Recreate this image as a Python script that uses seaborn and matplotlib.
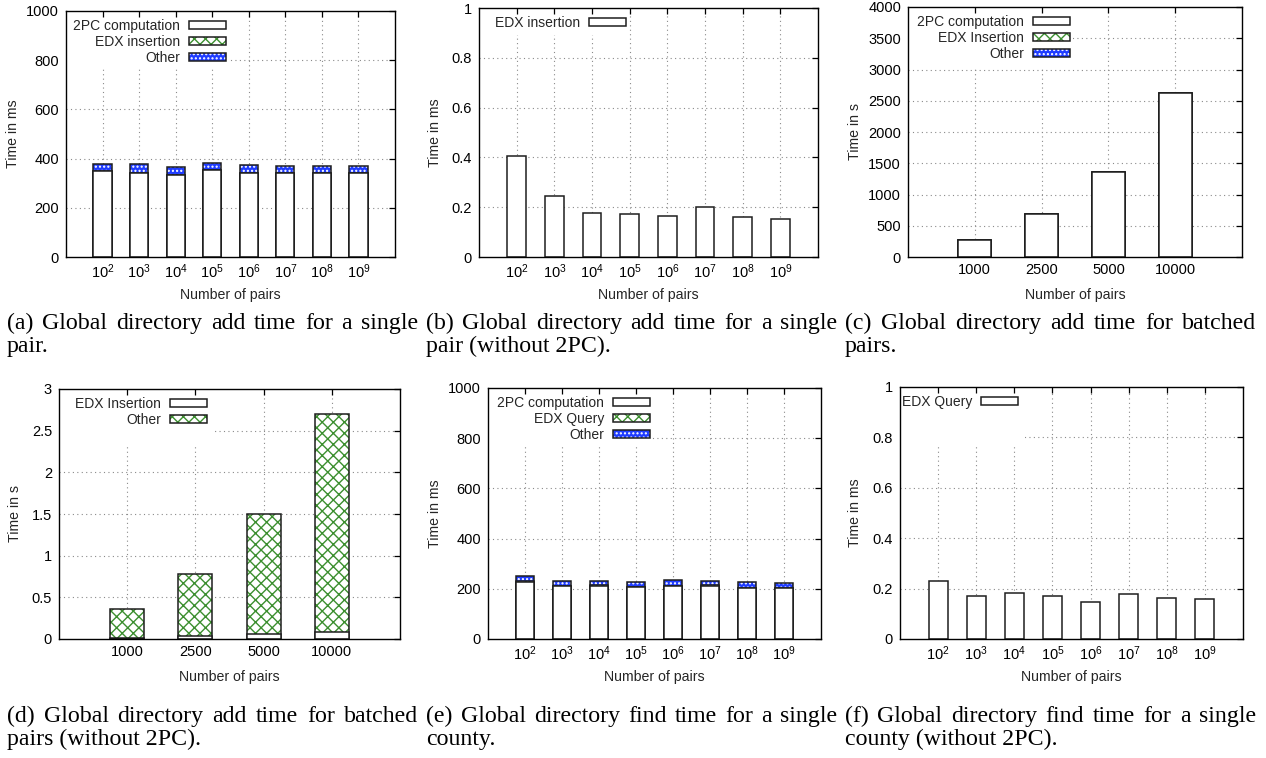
import numpy as np
import matplotlib
matplotlib.use('Agg')
import matplotlib.pyplot as plt
from matplotlib.patches import Patch, Rectangle
from matplotlib.ticker import FuncFormatter, MultipleLocator
import seaborn as sns

# values
exponents = [2, 3, 4, 5, 6, 7, 8, 9]
batch_sizes = [1000, 2500, 5000, 10000]

# global directory add, single pair (ms)
add_2pc_ms = [350, 343, 333, 352, 341, 341, 341, 341]
add_edx_ms = [0.406, 0.244, 0.176, 0.174, 0.166, 0.200, 0.162, 0.151]
add_other_ms = [28, 35, 33, 30, 33, 28, 29, 28]

# global directory add, batched pairs (s)
batch_2pc_s = [277, 682, 1353, 2626]
batch_edx_s = [0.016, 0.036, 0.064, 0.080]
batch_other_s = [0.349, 0.744, 1.432, 2.620]

# global directory find, single county (ms)
find_2pc_ms = [229, 212, 213, 208, 212, 213, 205, 202]
find_edx_ms = [0.230, 0.172, 0.184, 0.172, 0.146, 0.177, 0.161, 0.157]
find_other_ms = [20, 20, 19, 20, 21, 17, 21, 20]

exp_labels = [f'$10^{{{e}}}$' for e in exponents]
batch_labels = [str(b) for b in batch_sizes]

captions = [
    ("(a) Global directory add time for a single", "pair."),
    ("(b) Global directory add time for a single", "pair (without 2PC)."),
    ("(c) Global directory add time for batched", "pairs."),
    ("(d) Global directory add time for batched", "pairs (without 2PC)."),
    ("(e) Global directory find time for a single", "county."),
    ("(f) Global directory find time for a single", "county (without 2PC)."),
]

W, H = 1266, 758
EDGE = '#1e1e1e'
GREEN = '#3c8f2f'
BLUE = '#1f3cff'
GRID = '#8a8a8a'

sns.set_theme(style='white')
plt.rcParams['font.family'] = ['Liberation Sans', 'DejaVu Sans']
plt.rcParams['mathtext.default'] = 'regular'
plt.rcParams['hatch.linewidth'] = 1.0

fig = plt.figure(figsize=(W / 100, H / 100), dpi=100)


def bar_layer(ax, labels, heights, style):
    n0 = len(ax.patches)
    sns.barplot(x=labels, y=heights, ax=ax, width=0.5, color='white',
                saturation=1, errorbar=None)
    for p in ax.patches[n0:]:
        if style == 'white':
            p.set(facecolor='white', edgecolor=EDGE, linewidth=1.1)
        elif style == 'green':
            p.set(facecolor='white', edgecolor=GREEN, hatch='xxx', linewidth=0)
        else:
            p.set(facecolor=BLUE, edgecolor='white', hatch='....', linewidth=0)
    if style != 'white':
        n1 = len(ax.patches)
        sns.barplot(x=labels, y=heights, ax=ax, width=0.5, color='white',
                    saturation=1, errorbar=None)
        for p in ax.patches[n1:]:
            p.set(facecolor='none', edgecolor=EDGE, linewidth=1.1)


def legend_handle(style):
    if style == 'white':
        return Patch(facecolor='white', edgecolor=EDGE, linewidth=1.1)
    if style == 'green':
        inner = Patch(facecolor='white', edgecolor=GREEN, hatch='xxx', linewidth=0)
    else:
        inner = Patch(facecolor=BLUE, edgecolor='white', hatch='....', linewidth=0)
    return (inner, Patch(facecolor='none', edgecolor=EDGE, linewidth=1.1))


# box = left, top, right, bottom in pixels; blank = area kept free of grid
panels = [
    dict(box=(66, 11, 395, 257), labels=exp_labels,
         layers=[(add_2pc_ms, 'white'), (add_edx_ms, 'green'), (add_other_ms, 'blue')],
         names=['2PC computation', 'EDX insertion', 'Other'],
         ymax=1000, step=200, ylabel='Time in ms', ylab_x=13, leg_r=160, blank=(164, 57)),
    dict(box=(479, 8, 818, 257), labels=exp_labels,
         layers=[(add_edx_ms, 'white')], names=['EDX insertion'],
         ymax=1, step=0.2, ylabel='Time in ms', ylab_x=435, leg_r=147, blank=(148, 27)),
    dict(box=(908, 7, 1242, 257), labels=batch_labels,
         layers=[(batch_2pc_s, 'white'), (batch_edx_s, 'green'), (batch_other_s, 'blue')],
         names=['2PC computation', 'EDX Insertion', 'Other'],
         ymax=4000, step=500, ylabel='Time in s', ylab_x=855, leg_r=162, blank=(165, 60)),
    dict(box=(59, 389, 400, 639), labels=batch_labels,
         layers=[(batch_edx_s, 'white'), (batch_other_s, 'green')],
         names=['EDX Insertion', 'Other'],
         ymax=3, step=0.5, ylabel='Time in s', ylab_x=15, leg_r=148, blank=(154, 58)),
    dict(box=(488, 388, 821, 639), labels=exp_labels,
         layers=[(find_2pc_ms, 'white'), (find_edx_ms, 'green'), (find_other_ms, 'blue')],
         names=['2PC computation', 'EDX Query', 'Other'],
         ymax=1000, step=200, ylabel='Time in ms', ylab_x=435, leg_r=162, blank=(162, 59)),
    dict(box=(900, 387, 1243, 639), labels=exp_labels,
         layers=[(find_edx_ms, 'white')], names=['EDX Query'],
         ymax=1, step=0.2, ylabel='Time in ms', ylab_x=855, leg_r=118, blank=(125, 60)),
]

for pan in panels:
    l, t, r, b = pan['box']
    wpx, hpx = r - l, b - t
    ax = fig.add_axes([l / W, 1 - b / H, wpx / W, hpx / H])
    n = len(pan['labels'])

    # stacked bars: draw cumulative tops first, lower segments over them
    cum = np.cumsum([np.array(v, dtype=float) for v, _ in pan['layers']], axis=0)
    for i in reversed(range(len(pan['layers']))):
        bar_layer(ax, pan['labels'], cum[i], pan['layers'][i][1])

    ax.set_xlim(-1, n)
    ax.set_ylim(0, pan['ymax'])
    ax.yaxis.set_major_locator(MultipleLocator(pan['step']))
    ax.yaxis.set_major_formatter(FuncFormatter(lambda v, p: f'{v:g}'))
    ax.set_xticks(range(n))
    ax.set_xticklabels(pan['labels'])
    ax.tick_params(direction='in', top=True, right=True, length=4.5, width=0.9,
                   labelsize=10.5, colors='black')
    ax.tick_params(axis='y', pad=5)
    ax.tick_params(axis='x', pad=4)
    for s in ax.spines.values():
        s.set_visible(True)
        s.set_color('black')
        s.set_linewidth(1.0)

    # dotted grid behind the bars
    ax.grid(False)
    ygrid = np.arange(1, round(pan['ymax'] / pan['step'])) * pan['step']
    ax.hlines(ygrid, -1, n, colors=GRID, linestyles=(0, (1, 3)), linewidth=0.8, zorder=0.4)
    ax.vlines(range(n), 0, pan['ymax'], colors=GRID, linestyles=(0, (1, 3)),
              linewidth=0.8, zorder=0.4)
    bw, bh = pan['blank']
    ax.add_patch(Rectangle((0, 1 - bh / hpx), bw / wpx, bh / hpx, transform=ax.transAxes,
                           facecolor='white', edgecolor='none', zorder=0.45))

    ax.set_xlabel('Number of pairs', fontsize=10.2)
    ax.set_ylabel(pan['ylabel'], fontsize=10.2)
    ax.xaxis.set_label_coords(0.5, -31 / hpx)
    ax.yaxis.set_label_coords((pan['ylab_x'] + 7 - l) / wpx, 0.5)

    handles = [legend_handle(st) for _, st in pan['layers']]
    ax.legend(handles, pan['names'], loc='upper right', frameon=False, fontsize=10,
              bbox_to_anchor=(pan['leg_r'] / wpx, 1 - 8 / hpx), borderpad=0,
              borderaxespad=0, markerfirst=False, handlelength=2.7, handleheight=0.5,
              handletextpad=0.6, labelspacing=0.15)

# captions, first line justified over the column width
CAP_FS = 17.2
col_x = [7, 426, 845]
col_w = 411
rows_y = [(329, 352), (722, 745)]
renderer = fig.canvas.get_renderer()
for k, (line1, line2) in enumerate(captions):
    x0 = col_x[k % 3]
    y1, y2 = rows_y[k // 3]
    words = line1.split(' ')
    items = [fig.text(0, 1 - y1 / H, w_, fontsize=CAP_FS, family='Liberation Serif',
                      va='baseline', color='black') for w_ in words]
    widths = [it.get_window_extent(renderer).width for it in items]
    gap = (col_w - sum(widths)) / (len(words) - 1)
    x = x0
    for it, wd in zip(items, widths):
        it.set_x(x / W)
        x += wd + gap
    fig.text(x0 / W, 1 - y2 / H, line2, fontsize=CAP_FS, family='Liberation Serif',
             va='baseline', color='black')

fig.savefig('out.png', dpi=100)
